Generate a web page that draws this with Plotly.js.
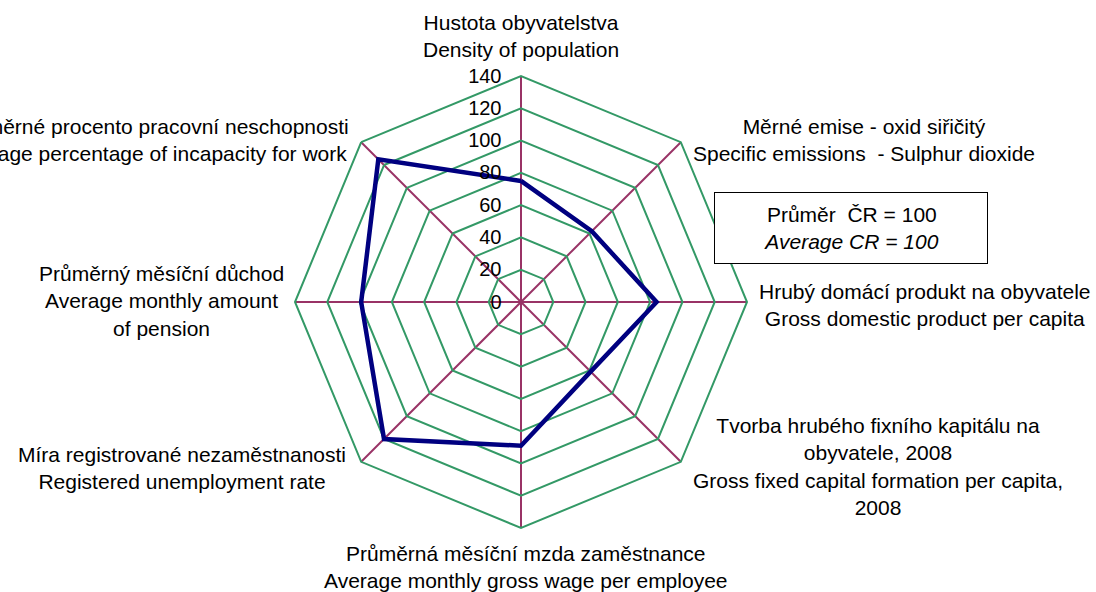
<!DOCTYPE html>
<html><head><meta charset="utf-8">
<script src="https://cdn.plot.ly/plotly-3.0.1.min.js"></script>
<style>html,body{margin:0;padding:0;background:#fff}#c{width:1096px;height:592px}</style>
</head><body><div id="c"></div>
<script>
var categories = ["Hustota", "SO2", "HDP", "THFK", "Mzda", "Nezam", "Duchod", "Neschop"];
var labels = [
  "Hustota obyvatelstva<br>Density of population",
  "Měrné emise - oxid siřičitý<br>Specific emissions  - Sulphur dioxide",
  "Hrubý domácí produkt na obyvatele<br>Gross domestic product per capita",
  "Tvorba hrubého fixního kapitálu na<br>obyvatele, 2008<br>Gross fixed capital formation per capita,<br>2008",
  "Průměrná měsíční mzda zaměstnance<br>Average monthly gross wage per employee",
  "Míra registrované nezaměstnanosti<br>Registered unemployment rate",
  "Průměrný měsíční důchod<br>Average monthly amount<br>of pension",
  "Průměrné procento pracovní neschopnosti<br>Average percentage of incapacity for work"
];
var values = [75, 62, 84, 61, 89, 120, 99, 125];
var tickVals = [0, 20, 40, 60, 80, 100, 120, 140];
var legendText = "Průměr  ČR = 100<br><i>Average CR = 100</i>";

var font = "Liberation Sans, Arial, sans-serif";
var trace = {
  type: "scatterpolar",
  r: values.concat([values[0]]),
  theta: categories.concat([categories[0]]),
  mode: "lines",
  line: {color: "#000080", width: 4.5},
  hoverinfo: "none"
};
// label positions (paper px): x, y, xanchor
var pos = [
  [521, 36, "center"],
  [864, 140, "center"],
  [925, 305, "center"],
  [878, 466, "center"],
  [526, 567, "center"],
  [182, 468, "center"],
  [161, 301, "center"],
  [351, 140, "right"]
];
var ann = labels.map(function(t, i){
  return {text: t, xref: "paper", yref: "paper", x: pos[i][0]/1096, y: 1 - pos[i][1]/592,
    xanchor: pos[i][2], yanchor: "middle", showarrow: false, align: "center",
    font: {family: font, size: 21, color: "#000"}};
});
ann.push({text: legendText, xref: "paper", yref: "paper", x: 851/1096, y: 1 - 228/592,
  xanchor: "center", yanchor: "middle", showarrow: false, align: "center",
  bordercolor: "#000", borderwidth: 1, borderpad: 0, width: 272, height: 70, bgcolor: "#fff",
  font: {family: font, size: 21, color: "#000"}});

var layout = {
  width: 1096, height: 592,
  margin: {l: 0, r: 0, t: 0, b: 0},
  paper_bgcolor: "#fff",
  showlegend: false,
  font: {family: font, size: 20, color: "#000"},
  polar: {
    domain: {x: [295/1096, 747/1096], y: [64/592, 516/592]},
    gridshape: "linear",
    bgcolor: "#fff",
    radialaxis: {
      range: [0, 140], tickvals: tickVals, ticktext: tickVals.map(String),
      angle: 90, tickangle: 90, side: "counterclockwise",
      showline: false, gridcolor: "#339966", gridwidth: 2,
      ticks: "outside", ticklen: 12, tickcolor: "rgba(0,0,0,0)",
      tickfont: {family: font, size: 20, color: "#000"}
    },
    angularaxis: {
      direction: "clockwise", rotation: 90,
      showticklabels: false, ticks: "",
      showline: true, linecolor: "#339966", linewidth: 2,
      gridcolor: "#993366", gridwidth: 2
    }
  },
  annotations: ann
};
Plotly.newPlot("c", [trace], layout, {staticPlot: true});
</script></body></html>
